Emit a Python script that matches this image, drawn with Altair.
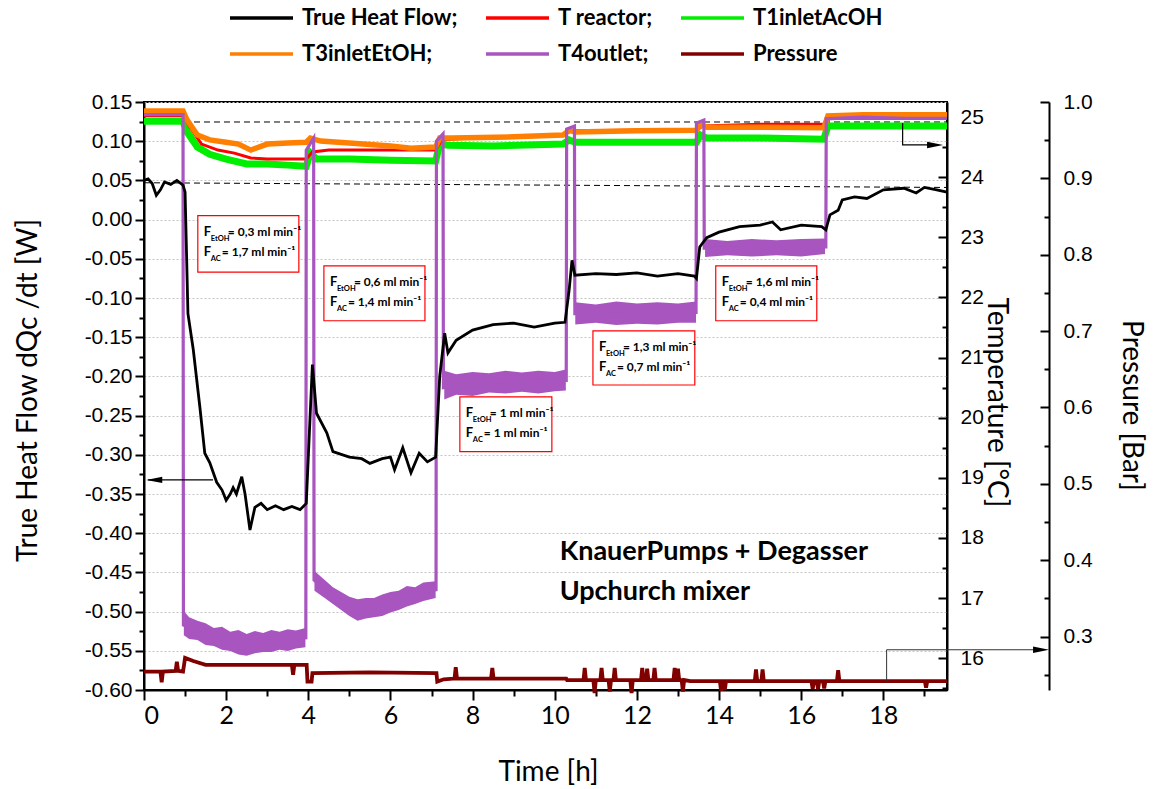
import altair as alt
import pandas as pd

# ---------------- series names / colours ----------------
SERIES = ["True Heat Flow", "T reactor", "T1inletAcOH", "T3inletEtOH", "T4outlet", "Pressure"]
COLORS = ["#000000", "#ff0000", "#00ee00", "#ff8000", "#a855c0", "#800000"]

# ---------------- True Heat Flow [W] ----------------
hf_t = [0, 0.1, 0.2, 0.3, 0.4, 0.5, 0.65, 0.8, 0.95, 1.0,
        1.07, 1.2, 1.36, 1.48, 1.6, 1.77, 1.9, 2.0, 2.1, 2.17,
        2.25, 2.38, 2.46, 2.58, 2.7, 2.85, 3.0, 3.2, 3.4, 3.6,
        3.8, 3.95, 4.1, 4.2, 4.45, 4.6, 5.0, 5.3, 5.5, 5.8,
        6.0, 6.1, 6.3, 6.5, 6.7, 6.9, 7.1, 7.2, 7.32, 7.4,
        7.6, 8.0, 8.5, 9.0, 9.5, 10.0, 10.25, 10.35, 10.42, 10.49,
        11.0, 11.5, 12.0, 12.5, 13.0, 13.4, 13.45, 13.53, 13.7, 14.0,
        14.5, 15.0, 15.3, 15.5, 16.0, 16.5, 16.6, 16.7, 16.9, 17.0,
        17.3, 17.6, 18.0, 18.5, 18.8, 19.0, 19.3, 19.55]
hf_v = [0.050, 0.052, 0.046, 0.031, 0.038, 0.048, 0.045, 0.050, 0.044, 0.035,
        -0.120, -0.166, -0.239, -0.298, -0.310, -0.335, -0.345, -0.358, -0.350, -0.342,
        -0.350, -0.328, -0.350, -0.396, -0.367, -0.362, -0.370, -0.365, -0.370, -0.366,
        -0.370, -0.362, -0.185, -0.247, -0.272, -0.296, -0.303, -0.305, -0.311, -0.305,
        -0.303, -0.319, -0.291, -0.323, -0.298, -0.309, -0.303, -0.200, -0.145, -0.170,
        -0.154, -0.141, -0.134, -0.132, -0.137, -0.132, -0.131, -0.090, -0.052, -0.071,
        -0.069, -0.070, -0.068, -0.072, -0.069, -0.072, -0.075, -0.035, -0.023, -0.016,
        -0.009, -0.007, -0.003, -0.013, -0.007, -0.009, -0.013, 0.006, 0.012, 0.025,
        0.029, 0.027, 0.038, 0.040, 0.034, 0.041, 0.038, 0.035]

# ---------------- T4outlet [°C] ----------------
t4_t = [0, 0.95, 0.96, 1.2, 1.6, 2.0, 2.4, 2.8, 3.2, 3.6,
        3.94, 3.95, 4.13, 4.14, 4.4, 4.8, 5.2, 5.6, 6.0, 6.5,
        7.11, 7.12, 7.28, 7.29, 8.0, 9.0, 10.28, 10.29, 10.48, 10.49,
        12.0, 13.44, 13.45, 13.63, 13.64, 15.0, 16.6, 16.61, 17.5, 18.5,
        19.55]
t4_v = [25.04, 25.04, 16.55, 16.47, 16.38, 16.3, 16.24, 16.26, 16.3, 16.32,
        16.34, 24.45, 24.65, 17.3, 17.14, 16.95, 16.8, 16.84, 16.93, 17.05,
        17.14, 24.6, 24.72, 20.5, 20.57, 20.6, 20.62, 24.8, 24.85, 21.73,
        21.72, 21.75, 24.9, 24.95, 22.82, 22.82, 22.84, 24.97, 25.0, 24.98,
        24.98]
# noise envelope of T4outlet plateaus
t4b_seg = [1] * 16 + [2] * 15 + [3] * 9 + [4] * 7 + [5] * 6
t4b_t = [0.97, 1.1, 1.3, 1.5, 1.7, 1.9, 2.1, 2.3, 2.5, 2.7, 2.9, 3.1, 3.3, 3.5, 3.7, 3.93,
         4.15, 4.4, 4.6, 4.8, 5.0, 5.2, 5.4, 5.6, 5.8, 6.0, 6.2, 6.4, 6.6, 6.8, 7.1,
         7.31, 7.6, 8.0, 8.4, 8.8, 9.2, 9.6, 10.0, 10.27,
         10.5, 11.0, 11.5, 12.0, 12.5, 13.0, 13.44,
         13.66, 14.2, 14.8, 15.4, 16.0, 16.58]
t4b_hi = [16.78, 16.68, 16.62, 16.58, 16.5, 16.52, 16.44, 16.47, 16.4, 16.45, 16.42, 16.47, 16.44, 16.48, 16.46, 16.5,
          17.45, 17.3, 17.18, 17.1, 17.02, 16.98, 17.0, 17.0, 17.06, 17.1, 17.12, 17.2, 17.18, 17.26, 17.28,
          20.78, 20.72, 20.76, 20.74, 20.78, 20.75, 20.78, 20.76, 20.8,
          21.92, 21.88, 21.93, 21.9, 21.92, 21.9, 21.93,
          22.97, 22.94, 22.97, 22.95, 22.97, 22.98]
t4b_lo = [16.38, 16.32, 16.3, 16.22, 16.2, 16.14, 16.12, 16.06, 16.04, 16.08, 16.1, 16.1, 16.14, 16.12, 16.16, 16.18,
          17.12, 17.0, 16.9, 16.8, 16.7, 16.62, 16.66, 16.68, 16.7, 16.76, 16.8, 16.86, 16.9, 16.95, 17.0,
          20.3, 20.38, 20.36, 20.42, 20.4, 20.43, 20.4, 20.44, 20.45,
          21.55, 21.58, 21.54, 21.56, 21.55, 21.58, 21.58,
          22.67, 22.7, 22.68, 22.7, 22.68, 22.72]

# ---------------- T1inletAcOH [°C] ----------------
g_t = [0, 0.95, 1.05, 1.3, 1.6, 2.0, 2.5, 3.0, 3.5, 3.95,
       4.05, 4.2, 5.0, 6.0, 7.1, 7.2, 7.4, 8.5, 10.2, 10.35,
       10.5, 12.0, 13.45, 13.55, 13.7, 15.0, 16.55, 16.65, 17.5, 19.55]
g_v = [24.93, 24.93, 24.75, 24.5, 24.38, 24.3, 24.22, 24.22, 24.2, 24.18,
       24.4, 24.3, 24.3, 24.28, 24.27, 24.55, 24.53, 24.52, 24.55, 24.62,
       24.58, 24.58, 24.58, 24.7, 24.65, 24.65, 24.63, 24.85, 24.85, 24.85]

# ---------------- T3inletEtOH [°C] ----------------
o_t = [0, 0.95, 1.05, 1.3, 1.6, 2.0, 2.3, 2.6, 3.0, 3.5,
       3.95, 4.05, 4.3, 5.0, 6.0, 6.5, 7.1, 7.2, 7.5, 9.0,
       10.2, 10.35, 10.5, 12.0, 13.45, 13.55, 13.7, 15.0, 16.55, 16.65,
       17.5, 19.55]
o_v = [25.1, 25.1, 24.95, 24.7, 24.62, 24.58, 24.55, 24.45, 24.55, 24.57,
       24.58, 24.65, 24.6, 24.57, 24.52, 24.48, 24.5, 24.65, 24.65, 24.67,
       24.7, 24.78, 24.75, 24.77, 24.78, 24.88, 24.83, 24.83, 24.82, 25.02,
       25.04, 25.04]

# ---------------- T reactor [°C] ----------------
r_t = [0, 0.95, 1.1, 1.4, 1.8, 2.2, 2.6, 3.0, 3.5, 3.95,
       4.1, 4.5, 5.5, 7.1, 7.25, 8.0, 10.2, 10.4, 12.0, 13.45,
       13.6, 15.0, 16.55, 16.7, 19.55]
r_v = [25.02, 25.02, 24.85, 24.55, 24.45, 24.4, 24.32, 24.3, 24.3, 24.3,
       24.42, 24.45, 24.45, 24.45, 24.62, 24.65, 24.7, 24.77, 24.78, 24.78,
       24.85, 24.88, 24.88, 24.98, 24.98]

# ---------------- Pressure [Bar] ----------------
p_t = [0, 0.40, 0.43, 0.46, 0.77, 0.80, 0.83, 0.95, 1.0, 1.2,
       1.5, 2.5, 3.60, 3.63, 3.66, 3.96, 3.98, 4.08, 4.1, 5.5,
       7.12, 7.14, 7.3, 7.56, 7.59, 7.62, 8.45, 8.48, 8.51, 10.28,
       10.3, 10.70, 10.73, 10.76, 10.94, 10.97, 11.00, 11.11, 11.14, 11.17,
       11.31, 11.34, 11.37, 11.43, 11.46, 11.49, 11.84, 11.87, 11.90, 12.10,
       12.13, 12.16, 12.22, 12.25, 12.28, 12.40, 12.43, 12.46, 12.89, 12.92,
       12.95, 12.97, 13.0, 13.03, 13.09, 13.12, 13.15, 13.3, 14.02, 14.05,
       14.08, 14.11, 14.14, 14.17, 14.87, 14.9, 14.93, 15.03, 15.06, 15.09,
       16.25, 16.28, 16.31, 16.38, 16.41, 16.44, 16.53, 16.56, 16.59, 16.87,
       16.9, 16.93, 19.01, 19.04, 19.07, 19.55]
p_v = [0.254, 0.254, 0.240, 0.254, 0.255, 0.267, 0.255, 0.254, 0.272, 0.268,
       0.263, 0.263, 0.263, 0.250, 0.263, 0.263, 0.241, 0.241, 0.252, 0.253,
       0.252, 0.241, 0.244, 0.245, 0.260, 0.245, 0.245, 0.259, 0.245, 0.245,
       0.243, 0.243, 0.259, 0.243, 0.243, 0.226, 0.243, 0.243, 0.259, 0.243,
       0.243, 0.228, 0.243, 0.243, 0.259, 0.243, 0.243, 0.226, 0.243, 0.243,
       0.259, 0.243, 0.243, 0.258, 0.243, 0.243, 0.259, 0.243, 0.243, 0.259,
       0.243, 0.243, 0.258, 0.243, 0.243, 0.228, 0.243, 0.2415, 0.2415, 0.229,
       0.2415, 0.2415, 0.230, 0.2415, 0.2415, 0.257, 0.2415, 0.2415, 0.257, 0.2415,
       0.2415, 0.231, 0.2415, 0.2415, 0.231, 0.2415, 0.2415, 0.232, 0.2415, 0.2415,
       0.256, 0.2415, 0.2415, 0.233, 0.2415, 0.2415]

# ---------------- axes ----------------
X_DOMAIN = [0, 19.55]
HF_DOMAIN = [-0.60, 0.15]
T_DOMAIN = [15.47, 25.25]
P_DOMAIN = [0.23, 1.0]
X_TICKS = list(range(0, 20))
HF_TICKS = [-0.60, -0.55, -0.50, -0.45, -0.40, -0.35, -0.30, -0.25, -0.20, -0.15,
            -0.10, -0.05, 0.00, 0.05, 0.10, 0.15]
HF_MINOR = [-0.575, -0.525, -0.475, -0.425, -0.375, -0.325, -0.275, -0.225, -0.175,
            -0.125, -0.075, -0.025, 0.025, 0.075, 0.125]
T_TICKS = [16, 17, 18, 19, 20, 21, 22, 23, 24, 25]
T_MINOR = [15.5, 16.5, 17.5, 18.5, 19.5, 20.5, 21.5, 22.5, 23.5, 24.5]
P_TICKS = [0.3, 0.4, 0.5, 0.6, 0.7, 0.8, 0.9, 1.0]
P_MINOR = [0.25, 0.35, 0.45, 0.55, 0.65, 0.75, 0.85, 0.95]

# ---------------- annotations ----------------
baseline_t = [0, 19.55]
baseline1_v = [0.1245, 0.1245]
baseline2_v = [0.047, 0.041]

box_t1 = [1.31, 4.38, 7.69, 10.93, 13.92]
box_t2 = [3.77, 6.84, 9.93, 13.41, 16.38]
box_top = [0.005, -0.059, -0.226, -0.142, -0.059]
box_bot = [-0.067, -0.129, -0.296, -0.211, -0.129]
f_etoh = ["0,3", "0,6", "1", "1,3", "1,6"]
f_ac = ["1,7", "1,4", "1", "0,7", "0,4"]

note_lines = ["KnauerPumps + Degasser", "Upchurch mixer"]
note_t = [10.12, 10.12]
note_v = [-0.424, -0.475]

NARROW = "Lato, Roboto, sans-serif"
SANS = "Liberation Sans, Arial, sans-serif"

# ---------------- frames ----------------
def frame(t, v, name):
    return pd.DataFrame({"t": t, "v": v, "series": name})

df_hf = frame(hf_t, hf_v, SERIES[0])
df_r = frame(r_t, r_v, SERIES[1])
df_g = frame(g_t, g_v, SERIES[2])
df_o = frame(o_t, o_v, SERIES[3])
df_t4 = frame(t4_t, t4_v, SERIES[4])
df_p = frame(p_t, p_v, SERIES[5])
df_t4b = pd.DataFrame({"t": t4b_t, "lo": t4b_lo, "hi": t4b_hi, "seg": t4b_seg})

df_base = pd.DataFrame({"t": baseline_t * 2, "v": baseline1_v + baseline2_v,
                        "k": ["a", "a", "b", "b"]})
df_box = pd.DataFrame({"t1": box_t1, "t2": box_t2, "top": box_top, "bot": box_bot,
                       "l1": ["= " + s + " ml min\u207b\u00b9" for s in f_etoh],
                       "l2": ["= " + s + " ml min\u207b\u00b9" for s in f_ac]})
df_note = pd.DataFrame({"t": note_t, "v": note_v, "txt": note_lines})

# arrows (hf units for 1 & 2, pressure units for 3)
df_arr = pd.DataFrame({"t": [1.68, 0.10, 18.47, 18.47, 19.30],
                       "v": [-0.332, -0.332, 0.1232, 0.0952, 0.0952],
                       "k": ["a1", "a1", "a2", "a2", "a2"], "i": [0, 1, 0, 1, 2]})
df_head = pd.DataFrame({"t": [0.25, 19.26], "v": [-0.332, 0.0952], "d": ["L", "R"]})
df_arr3 = pd.DataFrame({"t": [18.08, 18.08, 21.70], "v": [0.2408, 0.2827, 0.2827], "i": [0, 1, 2]})
df_head3 = pd.DataFrame({"t": [21.84], "v": [0.2827]})

# ---------------- encodings ----------------
xscale = alt.Scale(domain=X_DOMAIN, nice=False, zero=False)
xaxis = alt.Axis(values=X_TICKS, labelExpr="datum.value % 2 === 0 ? datum.label : ''",
                 tickSize={"condition": {"test": "datum.value % 2 === 0", "value": 10}, "value": 6},
                 tickWidth=2, domainWidth=2, domainColor="black", tickColor="black",
                 labelFont=NARROW, labelFontSize=25, labelPadding=3, labelColor="black",
                 grid=False, title="Time [h]", titleFont=NARROW, titleFontSize=28,
                 titleFontWeight="normal", titleX=404, titleY=82, titleAlign="center",
                 titleBaseline="middle", titleColor="black")


def X(field="t"):
    return alt.X(f"{field}:Q", scale=xscale, axis=xaxis)


def Y(field, dom, axis=None):
    return alt.Y(f"{field}:Q", scale=alt.Scale(domain=dom, nice=False, zero=False), axis=axis)


def minor_axis(orient, values, size, offset=0):
    return alt.Axis(orient=orient, values=values, labels=False, domain=False, grid=False,
                    ticks=True, tickSize=size, tickWidth=2, tickColor="black", title=None,
                    offset=offset)


legend = alt.Legend(orient="none", legendX=84, legendY=-95, columns=3, direction="horizontal",
                    title=None,
                    symbolType="stroke", symbolSize=3969, symbolStrokeWidth=3.5,
                    labelFont=NARROW, labelFontWeight="bold", labelFontSize=22,
                    labelColor="black", labelOffset=7, columnPadding=26, rowPadding=14,
                    clipHeight=22,
                    labelExpr="(datum.label == 'T1inletAcOH' || datum.label == 'Pressure') ? datum.label : datum.label + ';'")
color = alt.Color("series:N", scale=alt.Scale(domain=SERIES, range=COLORS), legend=legend)

hf_axis = alt.Axis(orient="left", values=HF_TICKS, format=".2f",
                   labelExpr="replace(datum.label, '\u2212', '-')",
                   labelFont=SANS, labelFontSize=21, labelColor="black", labelPadding=3,
                   tickSize=9, tickWidth=2, tickColor="black", domainWidth=2, domainColor="black",
                   grid=True, gridColor="#c4c4c4", gridDash=[2, 2], gridWidth=1,
                   title="True Heat Flow dQc /dt [W]", titleFont=NARROW, titleFontSize=28,
                   titleFontWeight="normal", titleColor="black", titleAngle=-90,
                   titleX=-116, titleY=288, titleAlign="center", titleBaseline="middle")
t_axis = alt.Axis(orient="right", values=T_TICKS, format="d",
                  labelFont=SANS, labelFontSize=21, labelColor="black", labelPadding=22,
                  tickSize={"expr": "-9"}, tickWidth=2, tickColor="black",
                  domainWidth=2, domainColor="black", grid=False,
                  title="Temperature [°C]", titleFont=NARROW, titleFontSize=28,
                  titleFontWeight="normal", titleColor="black", titleAngle=90,
                  titleX=48, titleY=300, titleAlign="center", titleBaseline="middle")
p_axis = alt.Axis(orient="right", offset=102, values=P_TICKS, format=".1f",
                  labelFont=SANS, labelFontSize=21, labelColor="black", labelPadding=23,
                  tickSize={"expr": "-9"}, tickWidth=2, tickColor="black",
                  domainWidth=2, domainColor="black", grid=False,
                  title="Pressure [Bar]", titleFont=NARROW, titleFontSize=28,
                  titleFontWeight="normal", titleColor="black", titleAngle=90,
                  titleX=81, titleY=303, titleAlign="center", titleBaseline="middle")

# ---------------- layers ----------------
base_lines = alt.Chart(df_base).mark_line(color="black", strokeWidth=1, strokeDash=[6, 4]).encode(
    x=X(), y=Y("v", HF_DOMAIN, minor_axis("left", HF_MINOR, 5)), detail="k:N")

green = alt.Chart(df_g).mark_line(strokeWidth=7).encode(
    x=X(), y=Y("v", T_DOMAIN, t_axis), color=color)
red = alt.Chart(df_r).mark_line(strokeWidth=3).encode(
    x=X(), y=Y("v", T_DOMAIN, minor_axis("right", T_MINOR, {"expr": "-5"})), color=color)
orange = alt.Chart(df_o).mark_line(strokeWidth=5.5).encode(
    x=X(), y=Y("v", T_DOMAIN), color=color)
purple_band = alt.Chart(df_t4b).mark_area(color=COLORS[4], opacity=1).encode(
    x=X(), y=Y("lo", T_DOMAIN), y2="hi:Q", detail="seg:N")
purple = alt.Chart(df_t4).mark_line(strokeWidth=3.2).encode(
    x=X(), y=Y("v", T_DOMAIN), color=color)
black = alt.Chart(df_hf).mark_line(strokeWidth=2.8).encode(
    x=X(), y=Y("v", HF_DOMAIN, hf_axis), color=color)
press = alt.Chart(df_p).mark_line(strokeWidth=3.8).encode(
    x=X(), y=Y("v", P_DOMAIN, p_axis), color=color)

arrows = alt.Chart(df_arr).mark_line(color="black", strokeWidth=1.2).encode(
    x=X(), y=Y("v", HF_DOMAIN), detail="k:N", order="i:Q")
heads_l = alt.Chart(df_head[df_head.d == "L"]).mark_point(
    shape="M-1,0L1,-0.4L1,0.4Z", filled=True, color="black", opacity=1, size=256).encode(
    x=X(), y=Y("v", HF_DOMAIN))
heads_r = alt.Chart(df_head[df_head.d == "R"]).mark_point(
    shape="M1,0L-1,-0.4L-1,0.4Z", filled=True, color="black", opacity=1, size=256).encode(
    x=X(), y=Y("v", HF_DOMAIN))
arrow3 = alt.Chart(df_arr3).mark_line(color="#333333", strokeWidth=1).encode(
    x=X(), y=Y("v", P_DOMAIN, minor_axis("right", P_MINOR, {"expr": "-5"}, offset=102)),
    order="i:Q")
head3 = alt.Chart(df_head3).mark_point(
    shape="M1,0L-1,-0.4L-1,0.4Z", filled=True, color="black", opacity=1, size=256).encode(
    x=X(), y=Y("v", P_DOMAIN))

boxes = alt.Chart(df_box).mark_rect(fill="white", stroke="#ff0000", strokeWidth=1.2).encode(
    x=X("t1"), x2="t2:Q", y=Y("top", HF_DOMAIN), y2="bot:Q")


def box_text(field, dx, dy, size, const=None):
    ch = alt.Chart(df_box).mark_text(align="left", baseline="middle", dx=dx, dy=dy,
                                     font=NARROW, fontWeight="bold", fontSize=size,
                                     color="black")
    if const is not None:
        return ch.encode(x=X("t1"), y=Y("top", HF_DOMAIN), text=alt.value(const))
    return ch.encode(x=X("t1"), y=Y("top", HF_DOMAIN), text=f"{field}:N")


txt_layers = [
    box_text(None, 6, 16.5, 13, const="F"),
    box_text(None, 13, 23, 7.5, const="EtOH"),
    box_text("l1", 30, 16.5, 12),
    box_text(None, 6, 36.5, 13, const="F"),
    box_text(None, 13, 43, 7.5, const="AC"),
    box_text("l2", 24, 36.5, 12),
]

notes = alt.Chart(df_note).mark_text(align="left", baseline="middle", font=NARROW,
                                     fontWeight="bold", fontSize=27, color="black").encode(
    x=X(), y=Y("v", HF_DOMAIN), text="txt:N")

chart = alt.layer(
    base_lines, green, red, orange, purple_band, purple, black, press,
    arrows, heads_l, heads_r, arrow3, head3, boxes, *txt_layers, notes
).resolve_scale(y="independent").properties(
    width=803, height=588,
    padding={"left": 144, "top": 102, "right": 207, "bottom": 99},
    autosize=alt.AutoSizeParams(type="none"),
    background="white",
).configure_view(stroke="black", strokeWidth=2)

chart.save("out.html", embed_options={"renderer": "svg", "actions": False})
